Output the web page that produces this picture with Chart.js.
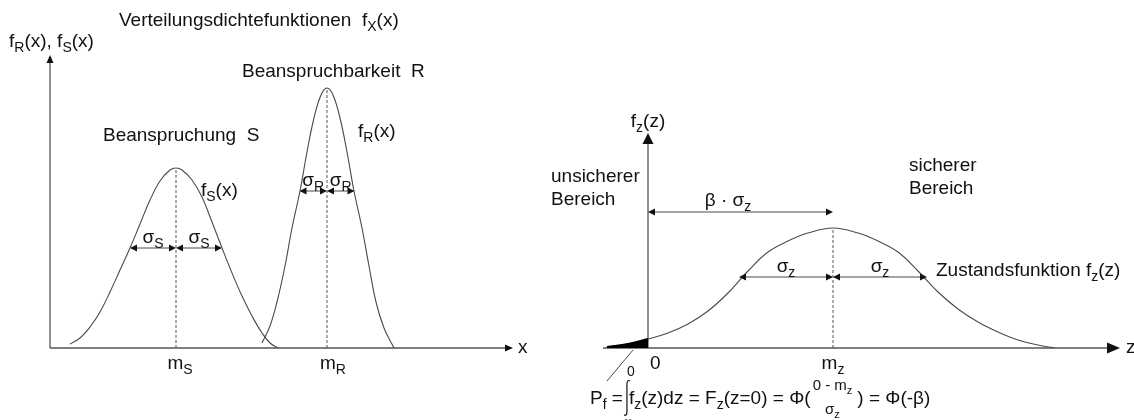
<!DOCTYPE html>
<html>
<head>
<meta charset="utf-8">
<script src="https://cdn.jsdelivr.net/npm/chart.js@4.4.1/dist/chart.umd.min.js"></script>
<style>
  body { margin: 0; background: #fff; }
  .wrap { position: relative; width: 1134px; height: 420px; }
  canvas { position: absolute; left: 0; top: 0; }
</style>
</head>
<body>
<div class="wrap">
  <canvas id="leftChart" width="1134" height="420"></canvas>
  <canvas id="rightChart" width="1134" height="420"></canvas>
</div>
<script>
// Werte (Einheiten beliebig)
// Beanspruchung S
const sX = [2.0, 3.0, 4.0, 5.0, 6.0, 7.0, 8.0, 9.0, 10.0, 11.0, 12.0, 12.6, 13.2, 14.2, 15.2, 16.2, 17.2, 18.2, 19.2, 20.2, 21.2, 22.0, 22.8];
const sY = [0.4, 1.0, 2.1, 3.6, 5.6, 7.8, 10.0, 12.4, 14.8, 16.7, 17.8, 18.0, 17.8, 16.8, 15.1, 12.6, 10.0, 7.5, 5.2, 3.2, 1.5, 0.5, 0.0];
// Beanspruchbarkeit R
const rX = [21.2, 22.0, 22.7, 23.5, 24.2, 25.0, 25.7, 26.4, 27.1, 27.7, 28.3, 29.0, 29.7, 30.4, 31.2, 31.9, 32.6, 33.4, 34.4];
const rY = [0.5, 2.2, 4.6, 8.2, 12.0, 15.7, 19.6, 23.0, 25.3, 26.0, 25.3, 23.0, 19.6, 15.7, 12.0, 8.2, 4.6, 2.0, 0.0];
// Zustandsfunktion Z
const zX = [-4.1, -2.0, 0, 2, 4, 6, 8, 10, 12, 14, 16, 18.5, 21, 23, 25, 27, 29, 31, 33, 35, 37, 39, 40.7];
const zY = [0.1, 0.4, 0.9, 1.5, 2.4, 3.7, 5.5, 7.7, 9.6, 10.7, 11.5, 12.0, 11.5, 10.7, 9.6, 7.7, 5.6, 3.9, 2.6, 1.6, 0.8, 0.3, 0.0];

// Mittelwerte und Streuungen
const meanS = 12.6, sigmaS = 4.6;
const meanR = 27.7, sigmaR = 2.75;
const meanZ = 18.5, sigmaZ = 9.4;
// Hoehe der Pfeile fuer sigma / beta
const arrowLevelS = 10.0, arrowLevelR = 15.7, arrowLevelZ = 7.1, betaLevel = 13.6;

const FONT = '"Liberation Sans", Arial, sans-serif';
const FS = 19;
const INK = '#111';
const LINE = '#4a4a4a';

const pts = (xs, ys) => xs.map((x, i) => ({ x: x, y: ys[i] }));
const peak = ys => Math.max(...ys);

// Text mit Tiefstellung: "f_{R}(x)"
function richText(ctx, str, x, y, size, align) {
  const parts = str.split(/_\{([^}]*)\}/);
  const subSize = Math.round(size * 0.72);
  let w = 0;
  parts.forEach((p, i) => {
    ctx.font = (i % 2 ? subSize : size) + 'px ' + FONT;
    w += ctx.measureText(p).width;
  });
  let cx = align === 'center' ? x - w / 2 : (align === 'right' ? x - w : x);
  ctx.textAlign = 'left';
  ctx.textBaseline = 'middle';
  ctx.fillStyle = INK;
  parts.forEach((p, i) => {
    const sub = i % 2 === 1;
    ctx.font = (sub ? subSize : size) + 'px ' + FONT;
    ctx.fillText(p, cx, sub ? y + size * 0.3 : y);
    cx += ctx.measureText(p).width;
  });
  return cx;
}

function head(ctx, x, y, dir, len, half) {
  ctx.beginPath();
  if (dir === 'right') { ctx.moveTo(x, y); ctx.lineTo(x - len, y - half); ctx.lineTo(x - len, y + half); }
  if (dir === 'left') { ctx.moveTo(x, y); ctx.lineTo(x + len, y - half); ctx.lineTo(x + len, y + half); }
  if (dir === 'up') { ctx.moveTo(x, y); ctx.lineTo(x - half, y + len); ctx.lineTo(x + half, y + len); }
  ctx.closePath();
  ctx.fill();
}

// Doppelpfeil waagerecht
function dimArrow(ctx, x1, x2, y) {
  ctx.strokeStyle = LINE;
  ctx.fillStyle = '#111';
  ctx.lineWidth = 1;
  ctx.beginPath();
  ctx.moveTo(x1 + 2, y);
  ctx.lineTo(x2 - 2, y);
  ctx.stroke();
  head(ctx, x1, y, 'left', 7, 3.5);
  head(ctx, x2, y, 'right', 7, 3.5);
}

function axes(ctx, chart, big) {
  const sx = chart.scales.x, sy = chart.scales.y;
  const x0 = sx.getPixelForValue(0), y0 = sy.getPixelForValue(0);
  ctx.save();
  ctx.strokeStyle = '#555';
  ctx.fillStyle = '#111';
  ctx.lineWidth = 1.3;
  ctx.beginPath();
  ctx.moveTo(x0, y0);
  ctx.lineTo(x0, sy.top + 4);
  ctx.moveTo(sx.left, y0);
  ctx.lineTo(sx.right - 4, y0);
  ctx.stroke();
  head(ctx, x0, sy.top, 'up', big ? 11 : 8, big ? 5.5 : 3.5);
  head(ctx, sx.right, y0, 'right', big ? 13 : 8, big ? 5.5 : 3.5);
  ctx.restore();
}

const leftDecor = {
  id: 'leftDecor',
  beforeDatasetsDraw(chart) {
    axes(chart.ctx, chart, false);
  },
  afterDatasetsDraw(chart) {
    const ctx = chart.ctx, sx = chart.scales.x, sy = chart.scales.y;
    const X = v => sx.getPixelForValue(v), Y = v => sy.getPixelForValue(v);
    ctx.save();
    dimArrow(ctx, X(meanS - sigmaS), X(meanS), Y(arrowLevelS));
    dimArrow(ctx, X(meanS), X(meanS + sigmaS), Y(arrowLevelS));
    dimArrow(ctx, X(meanR - sigmaR), X(meanR), Y(arrowLevelR));
    dimArrow(ctx, X(meanR), X(meanR + sigmaR), Y(arrowLevelR));

    richText(ctx, 'Verteilungsdichtefunktionen  f_{X}(x)', 119, 21, FS, 'left');
    richText(ctx, 'f_{R}(x), f_{S}(x)', 9, 42, FS, 'left');
    richText(ctx, 'Beanspruchbarkeit  R', 242, 72, FS, 'left');
    richText(ctx, 'Beanspruchung  S', 103, 136, FS, 'left');
    richText(ctx, 'f_{R}(x)', 358, 132, FS, 'left');
    richText(ctx, 'f_{S}(x)', 201, 191, FS, 'left');
    richText(ctx, 'σ_{S}', X(meanS - sigmaS / 2), Y(arrowLevelS) - 10, FS, 'center');
    richText(ctx, 'σ_{S}', X(meanS + sigmaS / 2), Y(arrowLevelS) - 10, FS, 'center');
    richText(ctx, 'σ_{R}', X(meanR - sigmaR / 2), Y(arrowLevelR) - 10, FS, 'center');
    richText(ctx, 'σ_{R}', X(meanR + sigmaR / 2), Y(arrowLevelR) - 10, FS, 'center');
    richText(ctx, 'm_{S}', X(meanS) + 4, Y(0) + 16, FS, 'center');
    richText(ctx, 'm_{R}', X(meanR) + 6, Y(0) + 16, FS, 'center');
    richText(ctx, 'x', sx.right + 5, Y(0), FS, 'left');
    ctx.restore();
  }
};

const rightDecor = {
  id: 'rightDecor',
  beforeDatasetsDraw(chart) {
    axes(chart.ctx, chart, true);
  },
  afterDatasetsDraw(chart) {
    const ctx = chart.ctx, sx = chart.scales.x, sy = chart.scales.y;
    const X = v => sx.getPixelForValue(v), Y = v => sy.getPixelForValue(v);
    ctx.save();
    dimArrow(ctx, X(0), X(meanZ), Y(betaLevel));
    dimArrow(ctx, X(meanZ - sigmaZ), X(meanZ), Y(arrowLevelZ));
    dimArrow(ctx, X(meanZ), X(meanZ + sigmaZ), Y(arrowLevelZ));

    richText(ctx, 'f_{z}(z)', X(0), 122, FS, 'center');
    richText(ctx, 'unsicherer', 551, 177, FS, 'left');
    richText(ctx, 'Bereich', 551, 200, FS, 'left');
    richText(ctx, 'sicherer', 909, 166, FS, 'left');
    richText(ctx, 'Bereich', 909, 189, FS, 'left');
    richText(ctx, 'β · σ_{z}', 728, Y(betaLevel) - 11, FS, 'center');
    richText(ctx, 'σ_{z}', X(meanZ - sigmaZ / 2), Y(arrowLevelZ) - 10, FS, 'center');
    richText(ctx, 'σ_{z}', X(meanZ + sigmaZ / 2), Y(arrowLevelZ) - 10, FS, 'center');
    richText(ctx, 'Zustandsfunktion f_{z}(z)', 936, 271, FS, 'left');
    richText(ctx, '0', X(0) + 2, Y(0) + 16, FS, 'left');
    richText(ctx, 'm_{z}', X(meanZ), Y(0) + 16, FS, 'center');
    richText(ctx, 'z', sx.right + 6, Y(0), FS, 'left');

    // Hinweislinie zum Ausfallbereich
    ctx.strokeStyle = LINE;
    ctx.lineWidth = 1;
    ctx.beginPath();
    ctx.moveTo(607, 381);
    ctx.lineTo(633, 350);
    ctx.stroke();

    // Formel
    const fy = 399;
    let cx = richText(ctx, 'P_{f} =', 590, fy, FS, 'left');
    const ix = cx + 1;
    ctx.strokeStyle = '#111';
    ctx.lineWidth = 1.2;
    ctx.beginPath();
    ctx.moveTo(ix + 6, 381);
    ctx.quadraticCurveTo(ix + 3, 379, ix + 3, 385);
    ctx.lineTo(ix + 3, 412);
    ctx.quadraticCurveTo(ix + 3, 416, ix, 415);
    ctx.stroke();
    richText(ctx, '0', ix + 3, 372, 14, 'left');
    richText(ctx, '-∞', ix - 4, 422, 12, 'left');
    cx = richText(ctx, 'f_{z}(z)dz = F_{z}(z=0) = Φ(', ix + 5, fy, FS, 'left');
    const fx = cx + 2;
    const numEnd = richText(ctx, '0 - m_{z}', fx, 386, 15, 'left');
    const fw = numEnd - fx;
    richText(ctx, 'σ_{z}', fx + fw / 2, 410, 15, 'center');
    richText(ctx, ') = Φ(-β)', numEnd + 5, fy, FS, 'left');
    ctx.restore();
  }
};

const curveStyle = {
  borderColor: LINE,
  borderWidth: 1.1,
  pointRadius: 0,
  tension: 0.4,
  fill: false
};
const dashStyle = {
  borderColor: '#555',
  borderWidth: 1,
  borderDash: [3, 2],
  pointRadius: 0,
  tension: 0,
  fill: false
};

function baseOptions(xMin, xMax, yMax, pad) {
  return {
    responsive: false,
    animation: false,
    events: [],
    layout: { padding: pad },
    plugins: { legend: { display: false }, tooltip: { enabled: false } },
    scales: {
      x: { type: 'linear', min: xMin, max: xMax, display: false },
      y: { type: 'linear', min: 0, max: yMax, display: false }
    }
  };
}

new Chart(document.getElementById('leftChart'), {
  type: 'line',
  data: {
    datasets: [
      Object.assign({ label: 'f_S(x)', data: pts(sX, sY) }, curveStyle),
      Object.assign({ label: 'f_R(x)', data: pts(rX, rY) }, curveStyle),
      Object.assign({ label: 'm_S', data: [{ x: meanS, y: 0 }, { x: meanS, y: peak(sY) }] }, dashStyle),
      Object.assign({ label: 'm_R', data: [{ x: meanR, y: 0 }, { x: meanR, y: peak(rY) }] }, dashStyle)
    ]
  },
  options: baseOptions(0, 46.3, 29.3, { left: 50, right: 621, top: 55, bottom: 72 }),
  plugins: [leftDecor]
});

const tail = pts(zX, zY).filter(p => p.x <= 0);

new Chart(document.getElementById('rightChart'), {
  type: 'line',
  data: {
    datasets: [
      Object.assign({ label: 'P_f', data: tail }, curveStyle, { fill: 'origin', backgroundColor: '#000', borderColor: '#000', borderWidth: 2 }),
      Object.assign({ label: 'f_z(z)', data: pts(zX, zY) }, curveStyle),
      Object.assign({ label: 'm_z', data: [{ x: meanZ, y: 0 }, { x: meanZ, y: peak(zY) }] }, dashStyle)
    ]
  },
  options: baseOptions(-4.5, 47.2, 21.5, { left: 603, right: 14, top: 133, bottom: 72 }),
  plugins: [rightDecor]
});
</script>
</body>
</html>
